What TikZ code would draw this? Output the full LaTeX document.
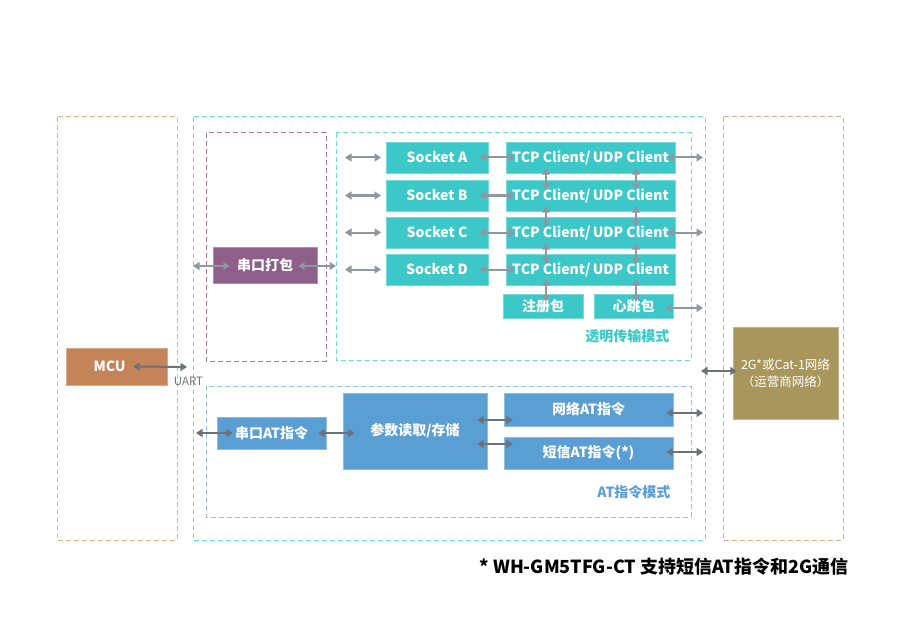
\documentclass[tikz,border=0pt]{standalone}
\usepackage{fontspec}
\setmainfont{Noto Sans CJK SC}
\usetikzlibrary{arrows.meta}
\definecolor{teal}{HTML}{3CC8C8}
\definecolor{bluebox}{HTML}{5A9FD4}
\definecolor{purplebox}{HTML}{8E5F88}
\definecolor{mcucol}{HTML}{C58458}
\definecolor{netcol}{HTML}{A8965C}
\definecolor{dorange}{HTML}{E3B595}
\definecolor{dcyan}{HTML}{72D9D9}
\definecolor{dpurple}{HTML}{A27BA2}
\definecolor{dblue}{HTML}{93C4E8}
\definecolor{dtan}{HTML}{C9B69A}
\definecolor{arrA}{HTML}{8F97A3}
\definecolor{arrB}{HTML}{6D7278}
\tikzset{
  frame/.style={line width=1pt, dash pattern=on 5pt off 3pt},
  boxn/.style={rectangle, inner sep=0pt, text=white, font=\bfseries\fontsize{14}{16}\selectfont, align=center},
  tealbox/.style={boxn, fill=teal, draw=teal!70!white},
  bluebx/.style={boxn, fill=bluebox, draw=bluebox!70!white},
  biarrow/.style={line width=2pt, {Triangle[length=6.5pt,width=8pt]}-{Triangle[length=6.5pt,width=8pt]}},
  ga/.style={biarrow, draw=arrA, color=arrA},
  da/.style={biarrow, draw=arrB, color=arrB},
}
\begin{document}
\begin{tikzpicture}[x=1pt,y=-1pt]
\useasboundingbox (0,0) rectangle (900,623);
% frames
\draw[frame, dorange] (57,117) rectangle (177,540);
\draw[frame, dcyan] (193,117) rectangle (705,540);
\draw[frame, dpurple] (206,133) rectangle (326,361);
\draw[frame, dcyan] (336,133) rectangle (691,360);
\draw[frame, dblue] (206,386) rectangle (691,517);
\draw[frame, dtan] (723,117) rectangle (843,540);
% nodes
\node[boxn, fill=purplebox, draw=purplebox!70!white, minimum width=104pt, minimum height=36pt] (pack) at (265,265) {串口打包};
\node[boxn, fill=mcucol, draw=mcucol!70!white, minimum width=101pt, minimum height=37pt] (mcu) at (116.5,366.5) {\hspace*{-14pt}MCU};
\node[font=\fontsize{11.5}{13}\selectfont, text=arrB] (uart) at (188.5,381) {UART};
\node[bluebx, minimum width=109pt, minimum height=32pt] (sat) at (271.5,433) {串口AT指令};
\node[bluebx, minimum width=144pt, minimum height=76pt] (param) at (415,431) {参数读取/存储};
\node[bluebx, minimum width=169pt, minimum height=33pt] (net) at (588.5,409.5) {网络AT指令};
\node[bluebx, minimum width=169pt, minimum height=32pt] (sms) at (588.5,453) {短信AT指令(*)};
\node[font=\bfseries\fontsize{14}{16}\selectfont, text=bluebox, anchor=east] (atl) at (674,492) {AT指令模式};
\foreach \n/\y/\l in {a/157.5/A, b/195.5/B, c/232.5/C, d/269.5/D}{
  \node[tealbox, minimum width=102pt, minimum height=31pt] (s\n) at (437,\y) {Socket \l};
  \node[tealbox, minimum width=169pt, minimum height=31pt] (t\n) at (590.5,\y) {TCP Client/\,UDP Client};
  \coordinate (l\n) at (345,\y);
  \coordinate (r\n) at (381,\y);
}
\node[tealbox, minimum width=80pt, minimum height=24pt] (reg) at (543,306) {注册包};
\node[tealbox, minimum width=79pt, minimum height=24pt] (hb) at (633.5,306) {心跳包};
\node[font=\bfseries\fontsize{14}{16}\selectfont, text=teal, anchor=east] (tl) at (673,336) {透明传输模式};
\node[boxn, fill=netcol, draw=netcol!70!white, minimum width=105pt, minimum height=92pt, font=\fontsize{12.5}{17}\selectfont] (nw) at (785.5,373) {2G*或Cat-1网络\\（运营商网络）};
\node[font=\bfseries\fontsize{18}{20}\selectfont, anchor=west] (foot) at (476,567) {* WH-GM5TFG-CT 支持短信AT指令和2G通信};
% coordinates for free ends
\coordinate (packL) at (193,266);
\coordinate (packR) at (336,266);
\coordinate (mcuR) at (187,367);
\coordinate (satL) at (196,433);
\coordinate (netR) at (703,413);
\coordinate (smsR) at (703,452);
\coordinate (taR) at (703,157.5);
\coordinate (tcR) at (703,232.5);
\coordinate (hbR) at (703,308);
\coordinate (nwL) at (701,371);
% arrows top
\foreach \n in {a,b,c,d}{
  \draw[ga] (l\n) -- (r\n);
  \draw[ga] ([xshift=-9pt]s\n.east) -- ([xshift=9pt]t\n.west);
}
\draw[ga] ([xshift=-8pt]ta.east) -- (taR);
\draw[ga] ([xshift=-8pt]tc.east) -- (tcR);
\draw[ga] ([xshift=-8pt]hb.east |- hbR) -- (hbR);
\foreach \u/\v in {a/b, b/c, c/d}{
  \draw[ga] ([xshift=-44.5pt,yshift=5pt]t\u.south) -- ([xshift=-44.5pt,yshift=-10pt]t\v.north);
  \draw[ga] ([xshift=45.5pt,yshift=5pt]t\u.south) -- ([xshift=45.5pt,yshift=-10pt]t\v.north);
}
\draw[ga] ([xshift=-44.5pt,yshift=6pt]td.south) -- ([xshift=3pt,yshift=-8pt]reg.north);
\draw[ga] ([xshift=45.5pt,yshift=6pt]td.south) -- ([xshift=2.5pt,yshift=-8pt]hb.north);
\draw[ga] (packL) -- ([xshift=17pt]pack.west |- packL);
\draw[ga] ([xshift=-19pt]pack.east |- packR) -- (packR);
% arrows bottom
\draw[da] ([xshift=-34pt]mcu.east) -- (mcuR);
\draw[da] (satL) -- ([xshift=16pt]sat.west);
\draw[da] ([xshift=-8pt]sat.east) -- ([xshift=12pt]param.west |- sat.east);
\draw[da] ([xshift=-10pt]param.east |- 0,420) -- ([xshift=9pt]net.west |- 0,420);
\draw[da] ([xshift=-10pt]param.east |- 0,444) -- ([xshift=9pt]sms.west |- 0,444);
\draw[da] ([xshift=-7pt]net.east |- netR) -- (netR);
\draw[da] ([xshift=-7pt]sms.east |- smsR) -- (smsR);
\draw[da] (nwL) -- ([xshift=4pt]nw.west |- nwL);
\end{tikzpicture}
\end{document}
